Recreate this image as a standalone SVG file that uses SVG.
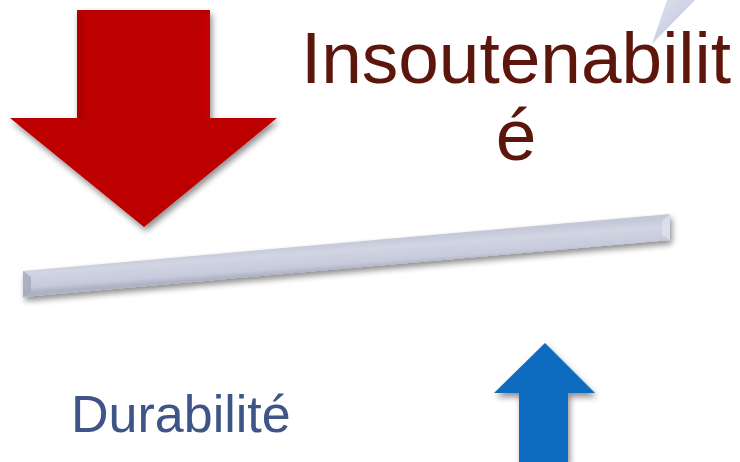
<svg xmlns="http://www.w3.org/2000/svg" width="740" height="462" viewBox="0 0 740 462">
<defs>
<filter id="sh" x="-20%" y="-20%" width="140%" height="140%">
<feGaussianBlur in="SourceAlpha" stdDeviation="3"/>
<feOffset dx="2" dy="4" result="b"/>
<feComponentTransfer><feFuncA type="linear" slope="0.45"/></feComponentTransfer>
<feMerge><feMergeNode/><feMergeNode in="SourceGraphic"/></feMerge>
</filter>
<linearGradient id="wedge" x1="0" y1="0" x2="1" y2="1">
<stop offset="0" stop-color="#dfe3ee"/>
<stop offset="1" stop-color="#b9c2d9"/>
</linearGradient>
<linearGradient id="bar" gradientUnits="userSpaceOnUse" x1="345" y1="242" x2="347" y2="269">
<stop offset="0" stop-color="#c4c8d8"/>
<stop offset="0.3" stop-color="#d2d5e2"/>
<stop offset="0.8" stop-color="#c6cadb"/>
<stop offset="1" stop-color="#aeb2c4"/>
</linearGradient>
<style>
.title{font-family:"Liberation Sans",Arial,sans-serif;font-size:73px;fill:#5c160c}
.dur{font-family:"Liberation Sans",Arial,sans-serif;font-size:52px;fill:#3f5587}
</style>
</defs>
<g id="wedge-shape">
<polygon points="667,0 695,0 652,44" fill="url(#wedge)"/>
</g>
<g id="red-arrow" filter="url(#sh)">
<polygon points="77,10 210,10 210,118 277,118 144,227 10,118 77,118" fill="#bc0000"/>
<polygon points="77,10 84,17 84,122 77,118" fill="#a00000" opacity="0.5"/>
<polygon points="210,10 204,17 204,122 210,118" fill="#d00000" opacity="0.5"/>
</g>
<g id="bar-shape" filter="url(#sh)">
<polygon points="23,271 670,214 670,240 23,297" fill="url(#bar)"/>
<polygon points="23,271 31,277 31,292 23,297" fill="#a4a9bb" opacity="0.8"/>
<polygon points="670,214 662,221 662,235 670,240" fill="#dfe2ec" opacity="0.8"/>
</g>
<g id="blue-arrow" filter="url(#sh)">
<polygon points="545,343 595,393 568,393 568,462 519,462 519,393 494,393" fill="#0a6cbf"/>
</g>
<g id="label-insoutenabilite">
<text class="title" x="516" y="83" text-anchor="middle">Insoutenabilit</text>
<text class="title" x="516" y="160" text-anchor="middle">é</text>
</g>
<g id="label-durabilite">
<text class="dur" x="71" y="432">Durabilité</text>
</g>
</svg>
